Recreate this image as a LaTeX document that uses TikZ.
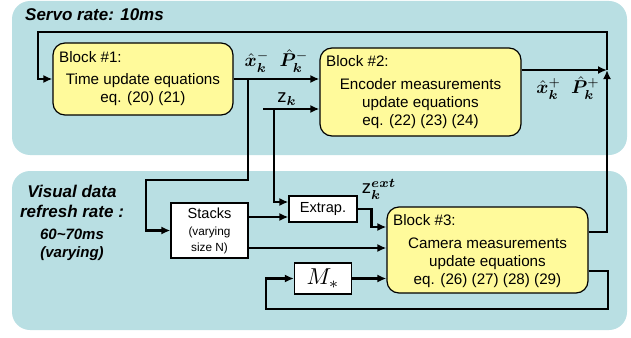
\documentclass[tikz,border=0pt]{standalone}
\usepackage{amsmath,bm,graphicx}
\usepackage{fontspec}
\setmainfont{Liberation Sans}
\usetikzlibrary{arrows.meta,calc}
\definecolor{panelc}{HTML}{B9DFE3}
\definecolor{blockc}{HTML}{FFFA9B}
\newcommand{\mlabtxt}[2][1.85]{\scalebox{#1}{$#2$}}
\begin{document}
\begin{tikzpicture}[x=1pt,y=-1pt,
  font=\fontsize{15.2}{18}\selectfont,
  block/.style={draw, fill=blockc, rounded corners=12pt, line width=1.2pt, inner sep=0pt},
  sbox/.style={draw, fill=white, line width=1.2pt, inner sep=0pt},
  conn/.style={line width=2.2pt, -{Latex[length=9pt,width=8pt]}},
  ttl/.style={font=\fontsize{17}{20}\selectfont\bfseries\itshape},
  mlab/.style={font=\fontsize{10}{12}\selectfont, inner sep=0pt}]
\useasboundingbox (0,0) rectangle (631,337);
% panels
\fill[panelc, rounded corners=18pt] (12,1) rectangle (627,155);
\fill[panelc, rounded corners=18pt] (12,171) rectangle (627,330);
% titles
\node[ttl, anchor=west, inner sep=0pt] (t1) at (25,15) {Servo rate: 10ms};
\node[ttl, align=center, inner sep=0pt] (t2) at (72,201) {Visual data\\refresh rate :};
\node[font=\fontsize{15}{18}\selectfont\bfseries\itshape, align=center, inner sep=0pt] (t3) at (72,245) {60\textasciitilde70ms\\(varying)};
% blocks
\node[block, minimum width=180pt, minimum height=72pt] (b1) at (143,79) {};
\node[anchor=west, inner sep=0pt] (b1t) at (59,57) {Block \#1:};
\node[align=center, inner sep=0pt] (b1b) at (143,90) {Time update equations\\eq. (20) (21)};
\node[block, minimum width=201pt, minimum height=88pt] (b2) at (420.5,92) {};
\node[anchor=west, inner sep=0pt] (b2t) at (326,61) {Block \#2:};
\node[align=center, inner sep=0pt] (b2b) at (420.5,104) {Encoder measurements\\update equations\\eq. (22) (23) (24)};
\node[block, minimum width=201pt, minimum height=86pt] (b3) at (487.5,250) {};
\node[anchor=west, inner sep=0pt] (b3t) at (393,220) {Block \#3:};
\node[align=center, inner sep=0pt] (b3b) at (487.5,263) {Camera measurements\\update equations\\eq. (26) (27) (28) (29)};
% small boxes
\node[sbox, minimum width=77pt, minimum height=55pt, align=center] (st) at (209.5,230.5)
  {\fontsize{14.6}{16}\selectfont Stacks\\[-1pt]{\fontsize{11.8}{14}\selectfont (varying}\\[-2pt]{\fontsize{11.8}{14}\selectfont size N)}};
\node[sbox, minimum width=68pt, minimum height=26pt, font=\fontsize{14.6}{16}\selectfont] (ex) at (323,209) {Extrap.};
\node[sbox, minimum width=57pt, minimum height=31pt, font=\fontsize{10}{12}\selectfont] (ms) at (323,278.5) {\mlabtxt[2.3]{M_*}};
% labels
\node[mlab] (lxm) at (276.5,61) {\mlabtxt{\hat{\bm{x}}_{\bm{k}}^{-}\;\;\hat{\bm{P}}_{\bm{k}}^{-}}};
\node[mlab] (lzk) at (287,99) {\mlabtxt{\mathrm{z}_{\bm{k}}}};
\node[mlab] (lxp) at (568,88) {\mlabtxt{\hat{\bm{x}}_{\bm{k}}^{+}\;\;\hat{\bm{P}}_{\bm{k}}^{+}}};
\node[mlab] (lze) at (379,189) {\mlabtxt{\mathrm{z}_{\bm{k}}^{\bm{ext}}}};
% coordinates
\coordinate (j1) at (248,79);
\coordinate (c1) at (146,180);
\coordinate (zs) at (263,109);
\coordinate (zj) at (274,109);
\coordinate (jr) at (607,70);
\coordinate (tl) at (38,32);
\coordinate (se) at ($(st.east)+(0,-13.5)$);
\coordinate (sb) at ($(st.east)+(0,17.5)$);
\coordinate (ei) at ($(b3.west)+(-15,-23)$);
\coordinate (o3a) at ($(b3.east)+(0,-18)$);
\coordinate (o3b) at ($(b3.east)+(0,21)$);
\coordinate (rb) at (608,309);
\coordinate (lb) at (266,309);
% connectors
\draw[conn] (b1.east) -- (b1.east -| b2.west);
\draw[conn] (j1) |- (c1) |- (st.west);
\draw[conn] (zs) -- (zs -| b2.west);
\draw[conn] (zj) |- ($(ex.west)+(0,-7)$);
\draw[conn] (se) -- (se -| ex.west);
\draw[conn] (ex.east) -| (ei) -- (ei -| b3.west);
\draw[conn] (sb) -- (sb -| b3.west);
\draw[conn] (ms.east) -- (ms.east -| b3.west);
\draw[conn] (o3b) -| (rb) -- (lb) |- (ms.west);
\draw[conn] (o3a) -| (jr);
\draw[conn] (b2.east |- jr) -- (jr);
\draw[conn] (jr) |- (tl) |- (b1.west);
\end{tikzpicture}
\end{document}
